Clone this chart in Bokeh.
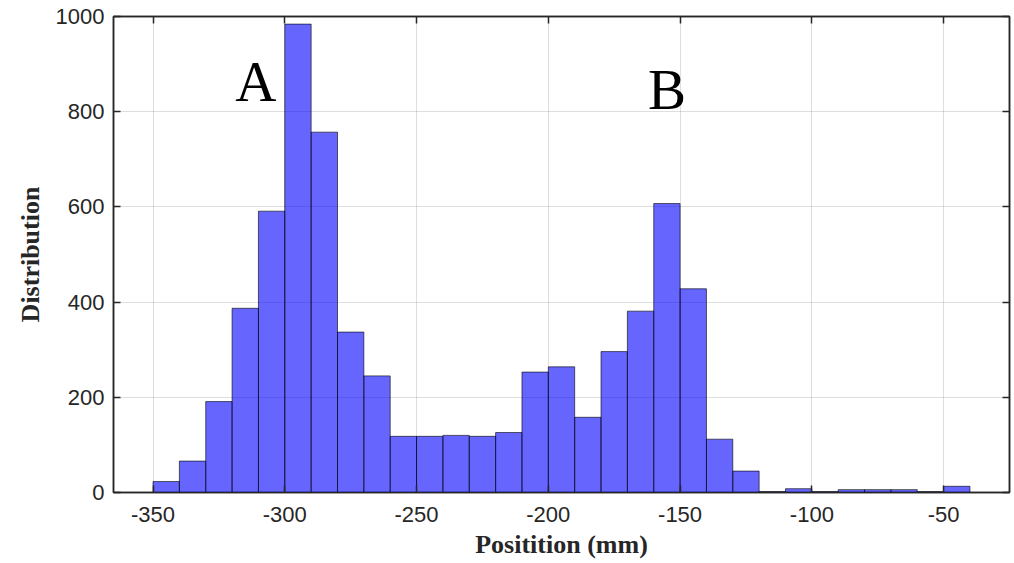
from bokeh.plotting import figure
from bokeh.models import LinearAxis, Range1d, ColumnDataSource, FixedTicker, CustomJSTickFormatter
from bokeh.core.properties import value
from bokeh.embed import file_html
from bokeh.resources import INLINE

# ---- data ----
bin_left = [-350, -340, -330, -320, -310, -300, -290, -280, -270, -260,
            -250, -240, -230, -220, -210, -200, -190, -180, -170, -160,
            -150, -140, -130, -120, -110, -100, -90, -80, -70, -60, -50]
bin_right = [-340, -330, -320, -310, -300, -290, -280, -270, -260, -250,
             -240, -230, -220, -210, -200, -190, -180, -170, -160, -150,
             -140, -130, -120, -110, -100, -90, -80, -70, -60, -50, -40]
counts = [23, 66, 191, 387, 591, 984, 757, 337, 245, 118,
          118, 120, 118, 126, 253, 264, 158, 296, 381, 607,
          428, 112, 45, 2, 8, 2, 6, 6, 6, 2, 13]

x_ticks = [-350, -300, -250, -200, -150, -100, -50]
x_tick_labels = ["-350", "-300", "-250", "-200", "-150", "-100", "-50"]
y_ticks = [0, 200, 400, 600, 800, 1000]
y_tick_labels = ["0", "200", "400", "600", "800", "1000"]

peak_labels = ["A", "B"]
peak_x = [-311, -155]
peak_y = [863, 846]

# ---- figure ----
p = figure(width=1012, height=561,
           x_range=Range1d(-365, -25), y_range=Range1d(0, 1000),
           output_backend="svg", toolbar_location=None,
           min_border_left=113, min_border_right=3,
           min_border_top=16, min_border_bottom=68)

p.background_fill_color = "white"
p.border_fill_color = "white"
p.outline_line_color = "#262626"
p.outline_line_width = 1.5

src = ColumnDataSource(dict(left=bin_left, right=bin_right, top=counts,
                            bottom=[0] * len(counts)))
p.quad(left="left", right="right", top="top", bottom="bottom", source=src,
       fill_color="#0000ff", fill_alpha=0.6,
       line_color="#000000", line_alpha=0.6, line_width=1)

lab_src = ColumnDataSource(dict(x=peak_x, y=peak_y, t=peak_labels))
p.text(x="x", y="y", text="t", source=lab_src,
       text_font=value("Liberation Serif"), text_font_size="57px",
       text_align="center", text_baseline="alphabetic", text_color="black")

xt = FixedTicker(ticks=x_ticks)
yt = FixedTicker(ticks=y_ticks)

for g, t in ((p.xgrid[0], xt), (p.ygrid[0], yt)):
    g.ticker = t
    g.grid_line_color = "#000000"
    g.grid_line_alpha = 0.13
    g.grid_line_width = 1

blank = CustomJSTickFormatter(code="return '';")

def style_axis(ax, ticker, labels=None):
    ax.ticker = ticker
    ax.axis_line_color = "#262626"
    ax.axis_line_width = 1.5
    ax.major_tick_line_color = "#262626"
    ax.major_tick_line_width = 1.5
    ax.major_tick_in = 7
    ax.major_tick_out = 0
    ax.minor_tick_line_color = None
    if labels is not None:
        ax.major_label_overrides = {t: s for t, s in zip(ticker.ticks, labels)}
        ax.major_label_text_font = "Liberation Sans"
        ax.major_label_text_font_size = "22px"
        ax.major_label_text_color = "#262626"
    else:
        ax.formatter = blank
        ax.major_label_standoff = 0

xa = p.xaxis[0]
style_axis(xa, xt, x_tick_labels)
xa.major_label_standoff = 14
xa.axis_label = "Positition (mm)"
xa.axis_label_text_font = "Liberation Serif"
xa.axis_label_text_font_style = "bold"
xa.axis_label_text_font_size = "26px"
xa.axis_label_text_color = "#262626"
xa.axis_label_standoff = 5

ya = p.yaxis[0]
style_axis(ya, yt, y_tick_labels)
ya.major_label_standoff = 9
ya.axis_label = "Distribution"
ya.axis_label_text_font = "Liberation Serif"
ya.axis_label_text_font_style = "bold"
ya.axis_label_text_font_size = "26px"
ya.axis_label_text_color = "#262626"
ya.axis_label_standoff = 8

top_ax = LinearAxis()
style_axis(top_ax, xt)
p.add_layout(top_ax, "above")

right_ax = LinearAxis()
style_axis(right_ax, yt)
p.add_layout(right_ax, "right")

open("out.html", "w").write(file_html(p, INLINE))
